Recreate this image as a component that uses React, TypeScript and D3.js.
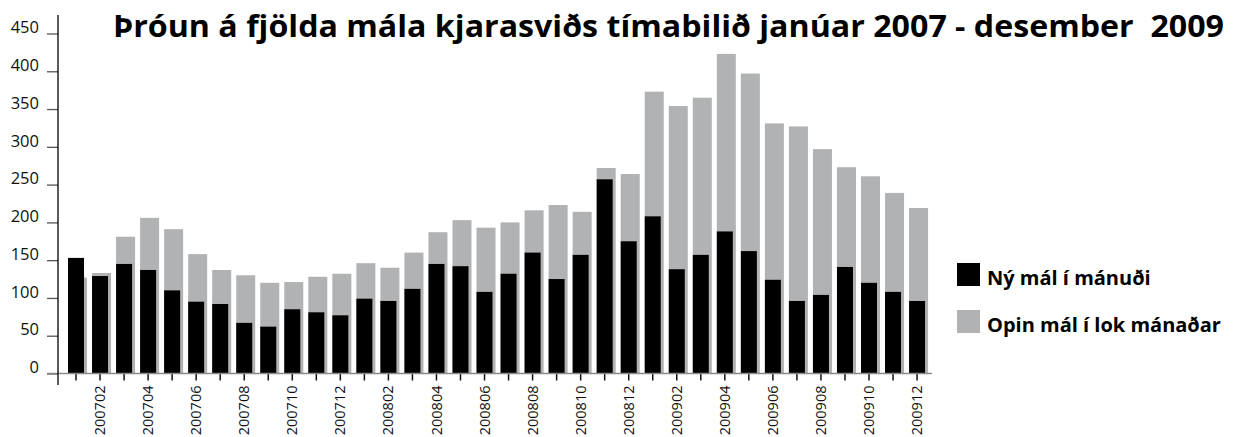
import React, { useEffect, useRef } from 'react';
import * as d3 from 'd3';

const months = [
  '200701', '200702', '200703', '200704', '200705', '200706', '200707', '200708', '200709', '200710', '200711', '200712',
  '200801', '200802', '200803', '200804', '200805', '200806', '200807', '200808', '200809', '200810', '200811', '200812',
  '200901', '200902', '200903', '200904', '200905', '200906', '200907', '200908', '200909', '200910', '200911', '200912',
];

// Ný mál í mánuði
const newCases = [
  153, 129, 145, 137, 110, 95, 92, 67, 62, 85, 81, 77,
  99, 96, 112, 145, 142, 108, 132, 160, 125, 157, 257, 175,
  208, 138, 157, 188, 162, 124, 96, 104, 141, 120, 108, 96,
];

// Opin mál í lok mánaðar
const openCases = [
  127, 133, 181, 206, 191, 158, 137, 130, 120, 121, 128, 132,
  146, 140, 160, 187, 203, 193, 200, 216, 223, 214, 272, 264,
  373, 354, 365, 423, 397, 331, 327, 297, 273, 261, 239, 219,
];

const yTicks = [0, 50, 100, 150, 200, 250, 300, 350, 400, 450];
const labelledMonths = months.filter((m) => +m.slice(4) % 2 === 0);

const title = 'Þróun á fjölda mála kjarasviðs tímabilið janúar 2007 - desember  2009';
const legendItems = [
  { label: 'Ný mál í mánuði', color: '#000000' },
  { label: 'Opin mál í lok mánaðar', color: '#b1b2b4' },
];

const FONT = '"Open Sans", "DejaVu Sans", sans-serif';

const App: React.FC = () => {
  const ref = useRef<SVGSVGElement>(null);

  useEffect(() => {
    const svg = d3.select(ref.current);
    svg.selectAll('*').remove();

    const step = 24.03;
    const x = d3
      .scaleBand<string>()
      .domain(months)
      .range([64, 64 + months.length * step]);

    const y = d3.scaleLinear().domain([0, 450]).range([373.5, 33.5]);

    const grayW = 19;
    const blackW = 16;
    const center = (m: string) => (x(m) as number) + x.bandwidth() / 2;

    // gray bars behind
    svg
      .append('g')
      .selectAll('rect')
      .data(months)
      .join('rect')
      .attr('x', (m) => center(m) - blackW / 2)
      .attr('y', (_, i) => y(openCases[i]))
      .attr('width', grayW)
      .attr('height', (_, i) => y(0) - y(openCases[i]))
      .attr('fill', '#b1b2b4');

    // black bars in front
    svg
      .append('g')
      .selectAll('rect')
      .data(months)
      .join('rect')
      .attr('x', (m) => center(m) - blackW / 2)
      .attr('y', (_, i) => y(newCases[i]))
      .attr('width', blackW)
      .attr('height', (_, i) => y(0) - y(newCases[i]))
      .attr('fill', '#000');

    // y axis
    const yAxis = svg
      .append('g')
      .attr('transform', 'translate(58,0)')
      .call(
        d3
          .axisLeft(y)
          .tickValues(yTicks)
          .tickSize(11)
          .tickPadding(8)
          .tickFormat((d) => String(d))
      );
    yAxis.select('.domain').remove();
    yAxis.selectAll('.tick line').attr('stroke', '#555').attr('stroke-width', 1.3);
    yAxis
      .selectAll('.tick text')
      .attr('font-family', FONT)
      .attr('font-size', 16.5)
      .attr('fill', '#111')
      .attr('dy', '-0.05em');

    // x axis
    const xAxis = svg
      .append('g')
      .attr('transform', `translate(0,${y(0)})`)
      .call(
        d3
          .axisBottom(x)
          .tickSize(7)
          .tickPadding(0)
          .tickFormat((m) => (labelledMonths.includes(m) ? m : ''))
      );
    xAxis.select('.domain').remove();
    xAxis.selectAll('.tick line').attr('stroke', '#111').attr('stroke-width', 1.5);
    xAxis
      .selectAll('.tick text')
      .attr('font-family', FONT)
      .attr('font-size', 14.5)
      .attr('fill', '#111')
      .attr('text-anchor', 'end')
      .attr('transform', 'rotate(-90)')
      .attr('x', -12)
      .attr('y', 0)
      .attr('dy', '0.35em');

    svg
      .append('line')
      .attr('x1', 47)
      .attr('x2', 932)
      .attr('y1', y(0))
      .attr('y2', y(0))
      .attr('stroke', '#8a8a8a')
      .attr('stroke-width', 1.6);

    svg
      .append('line')
      .attr('x1', 58)
      .attr('x2', 58)
      .attr('y1', 15)
      .attr('y2', 385)
      .attr('stroke', '#000')
      .attr('stroke-width', 1.3);

    // title
    svg
      .append('text')
      .attr('x', 113)
      .attr('y', 37)
      .attr('font-family', FONT)
      .attr('font-weight', 'bold')
      .attr('font-size', 31)
      .attr('textLength', 1111)
      .attr('lengthAdjust', 'spacingAndGlyphs')
      .attr('fill', '#000')
      .style('white-space', 'pre')
      .text(title);

    // legend
    const legend = svg
      .append('g')
      .selectAll('g')
      .data(legendItems)
      .join('g')
      .attr('transform', (_, i) => `translate(957,${263 + i * 47})`);
    legend
      .append('rect')
      .attr('width', 23)
      .attr('height', 23)
      .attr('fill', (d) => d.color);
    legend
      .append('text')
      .attr('x', 30)
      .attr('y', 22)
      .attr('font-family', FONT)
      .attr('font-weight', 'bold')
      .attr('font-size', 20)
      .attr('fill', '#000')
      .text((d) => d.label);
  }, []);

  return (
    <svg
      ref={ref}
      width={1243}
      height={437}
      style={{ position: 'absolute', left: 0, top: 0, background: '#fff' }}
    />
  );
};

export default App;
